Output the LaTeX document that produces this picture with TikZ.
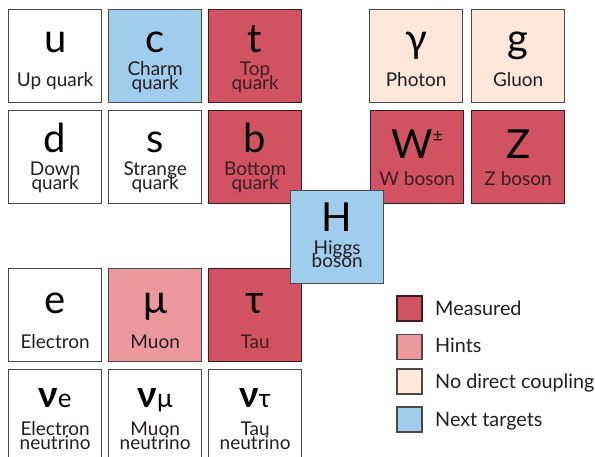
\documentclass[tikz,border=0pt]{standalone}
\usepackage{fontspec}
\setmainfont{Lato}
\usetikzlibrary{calc}
\definecolor{measured}{HTML}{D15362}
\definecolor{hints}{HTML}{EB999F}
\definecolor{nodirect}{HTML}{FDE6DA}
\definecolor{nexttgt}{HTML}{A0CDEC}
\definecolor{redline}{HTML}{3C1E22}
\definecolor{grayline}{HTML}{4A4A4A}
\definecolor{inktext}{HTML}{231F20}
\definecolor{redtext}{HTML}{3A1E22}
\tikzset{
  pbox/.style={rectangle, minimum width=93pt, minimum height=93pt, line width=1.3pt, inner sep=0pt, anchor=north west},
  wbox/.style={pbox, fill=white, draw=grayline},
  mbox/.style={pbox, fill=measured, draw=redline},
  hbox/.style={pbox, fill=hints, draw=grayline},
  ndbox/.style={pbox, fill=nodirect, draw=grayline},
  ntbox/.style={pbox, fill=nexttgt, draw=grayline},
  sym/.style={anchor=base, inner sep=0pt, text=black, font=\fontsize{40}{40}\selectfont},
  lab/.style={anchor=base, inner sep=0pt, text=inktext, font=\fontsize{19}{19}\selectfont},
  rlab/.style={lab, text=redtext},
  legsq/.style={rectangle, minimum width=25pt, minimum height=25pt, line width=1.3pt, inner sep=0pt},
  legtxt/.style={anchor=base west, inner sep=0pt, text=inktext, font=\fontsize{19.8}{19.8}\selectfont}
}
\newcommand\cell[4]{\node[#2] (#1) at (#3,#4) {};}
\newcommand\txt[5]{\node[#2] (#1) at ($(#3.north)+(0,#4)$) {#5};}
\newcommand\nusym[1]{{\fontsize{37}{37}\selectfont\bfseries ν}{\fontsize{26}{26}\selectfont #1}}
\begin{document}
\begin{tikzpicture}[x=1pt,y=-1pt]
\clip (0,0) rectangle (595,456);
\fill[white] (0,0) rectangle (595,456);
% quarks row 1
\cell{u}{wbox}{8}{9}
\txt{u-s}{sym}{u}{43}{u}
\txt{u-l}{lab}{u}{77}{Up quark}
\cell{c}{ntbox}{108}{9}
\txt{c-s}{sym}{c}{43}{c}
\txt{c-l1}{lab}{c}{66}{Charm}
\txt{c-l2}{lab}{c}{80}{quark}
\cell{t}{mbox}{208}{9}
\txt{t-s}{sym}{t}{43}{t}
\txt{t-l1}{rlab}{t}{66}{Top}
\txt{t-l2}{rlab}{t}{80}{quark}
% quarks row 2
\cell{d}{wbox}{8}{110}
\txt{d-s}{sym}{d}{42}{d}
\txt{d-l1}{lab}{d}{65}{Down}
\txt{d-l2}{lab}{d}{79}{quark}
\cell{s}{wbox}{108}{110}
\txt{s-s}{sym}{s}{42}{s}
\txt{s-l1}{lab}{s}{65}{Strange}
\txt{s-l2}{lab}{s}{79}{quark}
\cell{b}{mbox}{208}{110}
\txt{b-s}{sym}{b}{42}{b}
\txt{b-l1}{rlab}{b}{65}{Bottom}
\txt{b-l2}{rlab}{b}{79}{quark}
% bosons
\cell{ga}{ndbox}{369}{9}
\txt{ga-s}{sym}{ga}{43}{γ}
\txt{ga-l}{lab}{ga}{77}{Photon}
\cell{g}{ndbox}{471}{9}
\txt{g-s}{sym}{g}{43}{g}
\txt{g-l}{lab}{g}{77}{Gluon}
\cell{w}{mbox}{370}{110}
\txt{w-s}{sym}{w}{48}{W\raisebox{17pt}{\fontsize{17}{17}\selectfont ±}}
\txt{w-l}{rlab}{w}{75}{W boson}
\cell{z}{mbox}{471}{110}
\txt{z-s}{sym}{z}{48}{Z}
\txt{z-l}{rlab}{z}{75}{Z boson}
% leptons
\cell{e}{wbox}{8}{268}
\txt{e-s}{sym}{e}{45}{e}
\txt{e-l}{lab}{e}{80}{Electron}
\cell{mu}{hbox}{108}{268}
\txt{mu-s}{sym}{mu}{45}{μ}
\txt{mu-l}{lab}{mu}{80}{Muon}
\cell{tau}{mbox}{208}{268}
\txt{tau-s}{sym}{tau}{45}{τ}
\txt{tau-l}{rlab}{tau}{80}{Tau}
% neutrinos
\cell{ne}{wbox}{8}{369}
\txt{ne-s}{sym}{ne}{38}{\nusym{e}}
\txt{ne-l1}{lab}{ne}{66}{Electron}
\txt{ne-l2}{lab}{ne}{80}{neutrino}
\cell{nm}{wbox}{108}{369}
\txt{nm-s}{sym}{nm}{38}{\nusym{μ}}
\txt{nm-l1}{lab}{nm}{66}{Muon}
\txt{nm-l2}{lab}{nm}{80}{neutrino}
\cell{nt}{wbox}{208}{369}
\txt{nt-s}{sym}{nt}{38}{\nusym{τ}}
\txt{nt-l1}{lab}{nt}{66}{Tau}
\txt{nt-l2}{lab}{nt}{80}{neutrino}
% Higgs on top
\cell{h}{ntbox}{290}{189.5}
\txt{h-s}{sym}{h}{42}{H}
\txt{h-l1}{lab}{h}{65}{Higgs}
\txt{h-l2}{lab}{h}{78}{boson}
% legend
\node[legsq, fill=measured, draw=redline] (lg1) at (409.5,308.5) {};
\node[legsq, fill=hints, draw=grayline] (lg2) at (409.5,347) {};
\node[legsq, fill=nodirect, draw=grayline] (lg3) at (409.5,381.5) {};
\node[legsq, fill=nexttgt, draw=grayline] (lg4) at (409.5,419.5) {};
\node[legtxt] (lt1) at (435,315) {Measured};
\node[legtxt] (lt2) at (435,352.5) {Hints};
\node[legtxt] (lt3) at (435,388) {No direct coupling};
\node[legtxt] (lt4) at (435,426.5) {Next targets};
\end{tikzpicture}
\end{document}
